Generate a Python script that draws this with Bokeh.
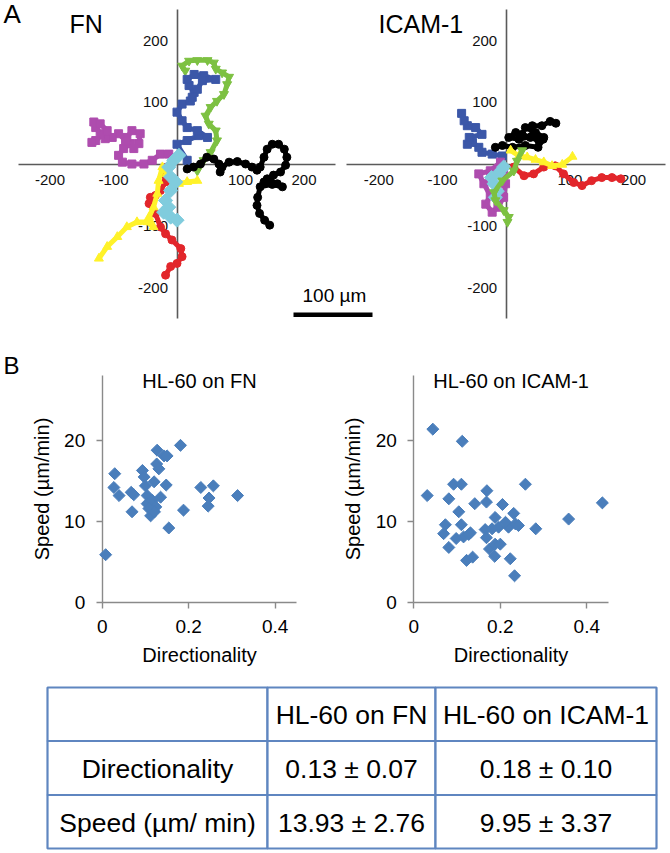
import math
from bokeh.plotting import figure
from bokeh.models import Range1d, LinearAxis, FixedTicker, Label, BoxAnnotation, ColumnDataSource
from bokeh.layouts import column, row
from bokeh.embed import file_html
from bokeh.resources import INLINE
from bokeh.core.properties import value

FONT = "Liberation Sans"

# ---------------- Panel A : cell tracks (µm) ----------------
track_ticks = [-200, -100, 100, 200]
track_tick_labels = ["-200", "-100", "100", "200"]

fn_green_x = [32, 42, 53, 63, 61, 50, 45, 53, 63, 74, 79, 82, 71, 61, 58, 48, 32, 19, 8, 13]
fn_green_y = [-11, 6, 19, 38, 54, 65, 78, 92, 102, 113, 129, 141, 148, 154, 164, 168, 168, 167, 159, 151]
fn_blue_x = [16, 0, 16, 34, 48, 32, 16, 8, 0, 8, 21, 27, 19, 16, 27, 42, 61, 40, 32, 24]
fn_blue_y = [6, 32, 38, 46, 43, 54, 59, 70, 84, 97, 102, 116, 127, 137, 145, 143, 137, 135, 121, 108]
fn_magenta_x = [-13, -26, -39, -52, -71, -86, -92, -84, -73, -79, -71, -58, -60, -68, -81, -92, -102, -113, -121, -128, -131, -121, -110, -128, -134]
fn_magenta_y = [16, 16, 6, 0, 0, 3, 14, 25, 33, 43, 54, 49, 33, 25, 38, 49, 43, 41, 49, 59, 68, 65, 54, 38, 35]
fn_black_x = [16, 26, 37, 47, 58, 66, 68, 71, 82, 95, 108, 118, 126, 131, 137, 142, 150, 160, 169, 173, 171, 163, 152, 142, 137, 147, 158, 166, 150, 131, 127, 126, 130, 138, 146]
fn_black_y = [-8, -5, 0, 11, 8, 0, -13, -5, 3, 4, 0, -5, -10, -5, 11, 24, 32, 32, 24, 11, -2, -13, -18, -24, -29, -27, -32, -37, -33, -37, -54, -67, -80, -91, -99]
fn_red_x = [-16, -21, -18, -26, -34, -42, -44, -34, -26, -18, -8, 6, 8, 0, -10, -18]
fn_red_y = [-5, -16, -29, -43, -51, -54, -64, -80, -102, -113, -123, -137, -150, -161, -166, -180]
fn_yellow_x = [32, 16, 3, -16, -23, -29, -31, -37, -44, -37, -47, -63, -79, -94, -110, -123]
fn_yellow_y = [-27, -29, -32, -16, -5, -27, -48, -70, -86, -102, -94, -94, -102, -118, -134, -153]
fn_cyan_x = [3, -5, -13, -10, -2, -10, -18, -13, -21, -10, 0]
fn_cyan_y = [14, 6, -5, -21, -29, -43, -59, -70, -78, -86, -91]

icam_blue_x = [-6, -22, -38, -43, -53, -61, -58, -38, -48, -61, -66, -70]
icam_blue_y = [13, 16, 19, 27, 35, 32, 43, 48, 59, 62, 70, 82]
icam_black_x = [-17, -6, 10, 30, 50, 58, 40, 20, 4, 15, 25, 38, 51, 59, 46, 30, 41, 56, 69, 78]
icam_black_y = [27, 30, 27, 30, 27, 40, 45, 40, 43, 51, 48, 43, 38, 43, 51, 59, 62, 62, 69, 66]
icam_yellow_x = [7, 20, 33, 46, 59, 72, 88, 104]
icam_yellow_y = [22, 13, 11, 7, 3, -3, -1, 12]
icam_red_x = [12, 28, 43, 59, 77, 90, 106, 119, 134, 150, 166, 180]
icam_red_y = [-5, -19, -16, -5, -3, -16, -30, -35, -27, -22, -22, -24]
icam_magenta_x = [-9, -25, -43, -35, -25, -32, -22, -13, -4, -1, -4]
icam_magenta_y = [3, -11, -16, -32, -51, -65, -78, -70, -54, -32, -11]
icam_cyan_x = [-4, -12, -23, -19, -14, -17]
icam_cyan_y = [-5, -15, -22, -32, -44, -54]
icam_green_x = [25, 17, 12, -6, -19, -17, -4, 4, 2]
icam_green_y = [22, 5, -11, -27, -46, -59, -75, -86, -94]

# ---------------- Panel B : scatter ----------------
fn_dir = [0.008, 0.029, 0.027, 0.039, 0.067, 0.073, 0.069, 0.093, 0.097, 0.100, 0.104, 0.104, 0.112, 0.116,
          0.120, 0.124, 0.127, 0.126, 0.131, 0.135, 0.143, 0.150, 0.148, 0.154, 0.181, 0.188, 0.228, 0.245,
          0.247, 0.257, 0.313, 0.108, 0.121]
fn_speed = [5.9, 15.9, 14.2, 13.2, 13.6, 13.3, 11.2, 16.3, 15.5, 14.4, 13.2, 12.2, 10.7, 12.6,
            14.9, 11.8, 18.8, 17.1, 16.5, 13.0, 18.1, 18.1, 14.5, 9.2, 19.4, 11.4, 14.2, 11.9,
            12.9, 14.4, 13.2, 11.6, 11.2]
icam_dir = [0.044, 0.112, 0.031, 0.092, 0.110, 0.081, 0.104, 0.073, 0.069, 0.081, 0.098, 0.110, 0.115, 0.127,
            0.131, 0.122, 0.136, 0.141, 0.168, 0.169, 0.165, 0.168, 0.175, 0.188, 0.187, 0.188, 0.196, 0.200,
            0.205, 0.219, 0.231, 0.235, 0.242, 0.223, 0.233, 0.258, 0.282, 0.358, 0.436, 0.181, 0.212]
icam_speed = [21.4, 19.9, 13.2, 14.6, 14.6, 12.8, 11.2, 9.6, 8.5, 6.8, 7.9, 9.6, 8.1, 8.4,
              8.6, 5.2, 5.6, 12.2, 12.4, 13.8, 9.0, 8.0, 6.6, 7.2, 5.7, 10.5, 9.3, 7.2,
              12.1, 9.3, 11.0, 9.7, 9.5, 5.4, 3.3, 14.6, 9.1, 10.3, 12.3, 9.1, 9.9]
dir_ticks = [0, 0.2, 0.4]
dir_tick_labels = ["0", "0.2", "0.4"]
speed_ticks = [0, 10, 20]
speed_tick_labels = ["0", "10", "20"]

# ---------------- Table ----------------
table_header = ["", "HL-60 on FN", "HL-60 on ICAM-1"]
table_row_names = ["Directionality", "Speed (µm/ min)"]
table_fn = ["0.13 ± 0.07", "13.93 ± 2.76"]
table_icam = ["0.18 ± 0.10", "9.95 ± 3.37"]

# =====================================================================
W = 670
H_TOP = 348
H_MID = 332
H_TAB = 173

# ---------------- Panel A figure (both track plots share one canvas) ----------------
top = figure(width=W, height=H_TOP, output_backend="svg", toolbar_location=None,
             x_axis_type=None, y_axis_type=None,
             x_range=Range1d((0 - 176.5) / 0.635, (W - 176.5) / 0.635),
             y_range=Range1d((163.5 - H_TOP) / 0.6175, 163.5 / 0.6175),
             min_border=0, min_border_left=0, min_border_right=0, min_border_top=0, min_border_bottom=0)
top.extra_x_ranges = {"icam": Range1d((0 - 505.7) / 0.637, (W - 505.7) / 0.637)}
top.outline_line_color = None

AX_COLOR = "#5a5a5a"


def style_track_axis(ax, standoff):
    ax.ticker = FixedTicker(ticks=track_ticks)
    ax.major_label_overrides = {t: l for t, l in zip(track_ticks, track_tick_labels)}
    ax.fixed_location = 0
    ax.bounds = (-250, 250)
    ax.axis_line_color = AX_COLOR
    ax.axis_line_width = 1.6
    ax.major_tick_line_color = None
    ax.minor_tick_line_color = None
    ax.major_tick_out = 0
    ax.major_tick_in = 0
    ax.major_label_standoff = standoff
    ax.major_label_text_font = FONT
    ax.major_label_text_font_size = "15px"
    ax.major_label_text_color = "#111111"
    ax.level = "underlay"


for rng in ("default", "icam"):
    axx = LinearAxis(x_range_name=rng)
    style_track_axis(axx, 11)
    top.add_layout(axx, "below")
    axy = LinearAxis(x_range_name=rng)
    style_track_axis(axy, 9)
    top.add_layout(axy, "left")

fn_series = [
    (fn_green_x, fn_green_y, "#7DC142", "inverted_triangle", 9, 0),
    (fn_blue_x, fn_blue_y, "#3B57A8", "square", 8, 0),
    (fn_magenta_x, fn_magenta_y, "#AE4CAE", "square", 8, 0),
    (fn_black_x, fn_black_y, "#000000", "circle", 8, 0),
    (fn_red_x, fn_red_y, "#E2262B", "circle", 8, 0),
    (fn_yellow_x, fn_yellow_y, "#FFF22A", "triangle", 9, 0),
    (fn_cyan_x, fn_cyan_y, "#80CCDD", "square", 10, math.pi / 4),
]
icam_series = [
    (icam_blue_x, icam_blue_y, "#3B57A8", "square", 8, 0),
    (icam_black_x, icam_black_y, "#000000", "circle", 8, 0),
    (icam_red_x, icam_red_y, "#E2262B", "circle", 8, 0),
    (icam_yellow_x, icam_yellow_y, "#FFF22A", "triangle", 9, 0),
    (icam_magenta_x, icam_magenta_y, "#AE4CAE", "square", 8, 0),
    (icam_cyan_x, icam_cyan_y, "#80CCDD", "square", 10, math.pi / 4),
    (icam_green_x, icam_green_y, "#7DC142", "inverted_triangle", 9, 0),
]
for series, rng in ((fn_series, "default"), (icam_series, "icam")):
    for xs, ys, col, mk, sz, ang in series:
        src = ColumnDataSource(dict(x=xs, y=ys))
        top.line("x", "y", source=src, line_color=col, line_width=5, x_range_name=rng)
        top.scatter("x", "y", source=src, marker=mk, size=sz, angle=ang, fill_color=col,
                    line_color=col, line_width=1, x_range_name=rng)


def top_label(text, x_ref, base_ref, size):
    top.add_layout(Label(x=x_ref, y=H_TOP - base_ref, x_units="screen", y_units="screen",
                         text=text, text_font=FONT, text_font_size=size, text_color="black",
                         text_baseline="alphabetic", text_align="left"))


top_label("A", 3, 13, "26px")
top_label("FN", 69, 23, "25px")
top_label("ICAM-1", 378, 23, "25px")
top_label("100 µm", 302, 295, "19px")
top.add_layout(BoxAnnotation(left=293, right=372, bottom=H_TOP - 316.5, top=H_TOP - 312,
                             left_units="screen", right_units="screen", top_units="screen",
                             bottom_units="screen", fill_color="black", fill_alpha=1, line_color=None))

# ---------------- Scatter plots (axes drawn at fixed data locations) ----------------
SC_COLOR = "#4A7EBB"
GRAY = "#8a8a8a"
PX_PER_DIR = 432.5
PX_PER_SPEED = 8.1
Y0_REF = 602 - 348  # y of speed 0 inside the figure


def scatter_fig(xs, ys, title, axis_x, show_b):
    p = figure(width=W // 2, height=H_MID, output_backend="svg", toolbar_location=None,
               x_axis_type=None, y_axis_type=None,
               x_range=Range1d(-axis_x / PX_PER_DIR, (W // 2 - axis_x) / PX_PER_DIR),
               y_range=Range1d(-(H_MID - Y0_REF) / PX_PER_SPEED, Y0_REF / PX_PER_SPEED),
               min_border=0, min_border_left=0, min_border_right=0, min_border_top=0, min_border_bottom=0)
    p.outline_line_color = None
    xa = LinearAxis()
    ya = LinearAxis()
    for ax, ticks, labels, bounds in ((xa, dir_ticks, dir_tick_labels, (0, 0.45)),
                                      (ya, speed_ticks, speed_tick_labels, (0, 28))):
        ax.ticker = FixedTicker(ticks=ticks)
        ax.major_label_overrides = {t: l for t, l in zip(ticks, labels)}
        ax.fixed_location = 0
        ax.bounds = bounds
        ax.axis_line_color = GRAY
        ax.axis_line_width = 1.4
        ax.major_tick_line_color = GRAY
        ax.major_tick_line_width = 1.4
        ax.minor_tick_line_color = None
        ax.major_tick_out = 6
        ax.major_tick_in = 0
        ax.major_label_standoff = 11
        ax.major_label_text_font = FONT
        ax.major_label_text_font_size = "19px"
        ax.major_label_text_color = "black"
        ax.axis_label_text_font = FONT
        ax.axis_label_text_font_size = "20px"
        ax.axis_label_text_font_style = "normal"
        ax.axis_label_text_color = "black"
        ax.level = "underlay"
    xa.axis_label = "Directionality"
    xa.axis_label_standoff = 8
    ya.axis_label = "Speed (µm/min)"
    ya.axis_label_standoff = 8
    ya.major_label_orientation = "horizontal"
    p.add_layout(xa, "below")
    p.add_layout(ya, "left")
    p.scatter(xs, ys, marker="square", size=8.5, angle=math.pi / 4, fill_color=SC_COLOR, line_color=SC_COLOR)
    p.add_layout(Label(x=0.225, y=(602 - 380) / PX_PER_SPEED, text=title, text_font=FONT,
                       text_font_size="20px", text_align="center", text_baseline="alphabetic",
                       text_color="black"))
    if show_b:
        p.add_layout(Label(x=(3 - axis_x) / PX_PER_DIR, y=(602 - 365) / PX_PER_SPEED, text="B",
                           text_font=FONT, text_font_size="24px", text_align="left",
                           text_baseline="alphabetic", text_color="black"))
    return p


mid_l = scatter_fig(fn_dir, fn_speed, "HL-60 on FN", 101.7, True)
mid_r = scatter_fig(icam_dir, icam_speed, "HL-60 on ICAM-1", 413.3 - 335, False)

# ---------------- Table ----------------
tab = figure(width=W, height=H_TAB, output_backend="svg", toolbar_location=None,
             x_axis_type=None, y_axis_type=None,
             x_range=Range1d(0, W), y_range=Range1d(680 + H_TAB, 680),
             min_border=0, min_border_left=0, min_border_right=0, min_border_top=0, min_border_bottom=0)
tab.outline_line_color = None
col_edges = [47, 267, 435, 656]
row_edges = [687, 740.5, 794.5, 848]
cells = dict(left=[], right=[], top=[], bottom=[])
texts = dict(x=[], y=[], t=[])
grid_text = [table_header,
             [table_row_names[0], table_fn[0], table_icam[0]],
             [table_row_names[1], table_fn[1], table_icam[1]]]
for r in range(3):
    for c in range(3):
        cells["left"].append(col_edges[c])
        cells["right"].append(col_edges[c + 1])
        cells["top"].append(row_edges[r])
        cells["bottom"].append(row_edges[r + 1])
        texts["x"].append((col_edges[c] + col_edges[c + 1]) / 2)
        texts["y"].append((row_edges[r] + row_edges[r + 1]) / 2 + 1)
        texts["t"].append(grid_text[r][c])
tab.quad(source=ColumnDataSource(cells), left="left", right="right", top="top", bottom="bottom",
         fill_color="white", line_color="#5F86C0", line_width=2.2)
tab.text(source=ColumnDataSource(texts), x="x", y="y", text="t", text_font=value(FONT),
         text_font_size=value("26.5px"), text_align="center", text_baseline="middle", text_color="black")

layout = column(top, row(mid_l, mid_r, spacing=0), tab, spacing=0)
open("out.html", "w").write(file_html(layout, INLINE))
